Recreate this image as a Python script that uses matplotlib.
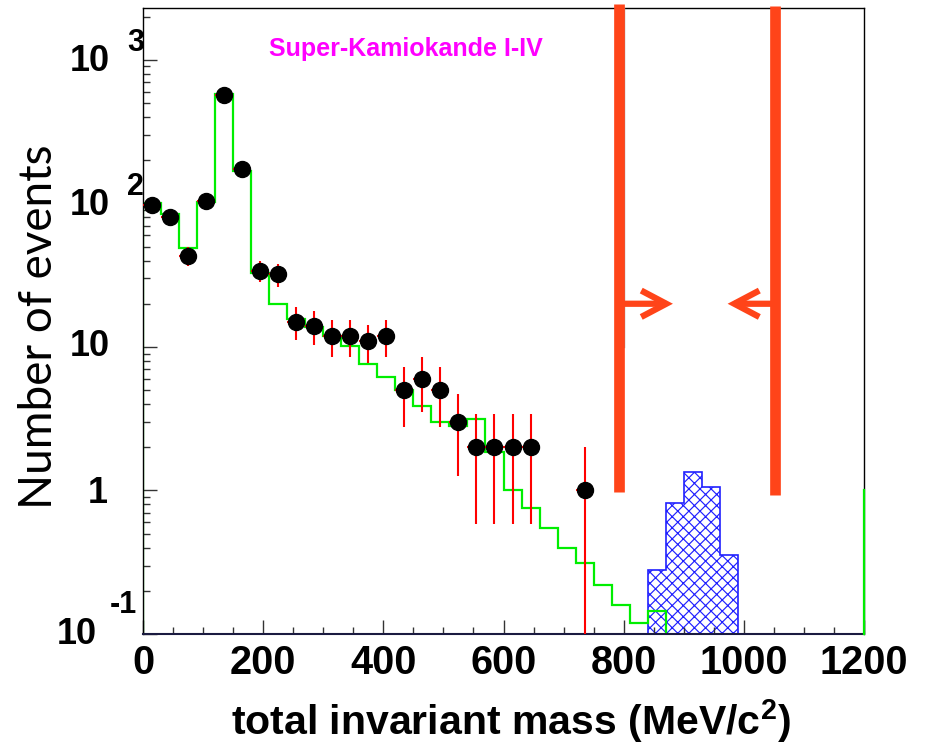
import numpy as np
import matplotlib
matplotlib.use("Agg")
import matplotlib.pyplot as plt
from matplotlib.patches import FancyArrowPatch

# ---------------- data ----------------
data_centers = [15, 45, 75, 105, 135, 165, 195, 225, 255, 285, 315, 345, 375,
                405, 435, 465, 495, 525, 555, 585, 615, 645, 735]
data_counts = [97, 80, 43, 104, 568, 173, 34, 32, 15, 14, 12, 12, 11,
               12, 5, 6, 5, 3, 2, 2, 2, 2, 1]
bin_half_width = 15

mc_edges = list(range(0, 871, 30))
mc_values = [100, 85, 49, 102, 577, 167, 33, 20, 15.6, 13.8, 12, 10.2, 7.6,
             6.2, 5.0, 3.9, 3.0, 2.8, 3.15, 1.86, 1.0, 0.76, 0.55, 0.40,
             0.31, 0.22, 0.16, 0.12, 0.145]
mc_right_edge_x = 1200
mc_right_edge_top = 1.0

sig_edges = [840, 870, 900, 930, 960, 990]
sig_values = [0.279, 0.814, 1.34, 1.05, 0.353]

cut_x = [793, 1052]
cut_bottom = [0.98, 0.93]
cut_top = [2450, 2380]
arrow_y = 20
arrow_tips = [882, 973]

yticks = [0.1, 1, 10, 100, 1000]
ytick_base = ["10", "1", "10", "10", "10"]
ytick_exp = ["-1", "", "", "2", "3"]
xticks = [0, 200, 400, 600, 800, 1000, 1200]

title_text = "Super-Kamiokande I-IV"
xlabel_text = r"total invariant mass (MeV/c$^{\mathregular{2}}$)"
ylabel_text = "Number of events"

# ---------------- style ----------------
plt.rcParams['mathtext.fontset'] = 'custom'
plt.rcParams['mathtext.rm'] = 'Liberation Sans:bold'
plt.rcParams['mathtext.it'] = 'Liberation Sans:bold'
plt.rcParams['mathtext.bf'] = 'Liberation Sans:bold'
plt.rcParams['hatch.linewidth'] = 0.85

BOLD = dict(family='Liberation Sans', weight='bold')
orange = '#ff4419'
green = '#00ee00'

W, H = 925, 744
fig = plt.figure(figsize=(W / 100, H / 100), dpi=100)
ax = fig.add_axes([143 / W, 1 - 634 / H, (864 - 143) / W, (634 - 8) / H])
ax.set_yscale('log')
ax.set_xlim(0, 1200)
ymin, ymax = 0.1, 2300
ax.set_ylim(ymin, ymax)

# signal hatched histogram
ax.stairs(sig_values, sig_edges, baseline=1e-3, fill=True, facecolor='none',
          edgecolor='#2020ff', hatch='xxx', linewidth=1.2, zorder=1)

# MC histogram
ax.stairs(mc_values, mc_edges, baseline=1e-3, color=green, linewidth=1.6,
          zorder=2)
ax.plot([mc_right_edge_x, mc_right_edge_x], [ymin, mc_right_edge_top],
        color=green, linewidth=1.6, zorder=6, clip_on=False)

# data points
counts = np.array(data_counts, dtype=float)
yerr_lo = np.sqrt(counts)
yerr_lo = np.minimum(yerr_lo, counts - 1e-6)
yerr_hi = np.sqrt(counts)
ax.errorbar(data_centers, counts, yerr=[yerr_lo, yerr_hi], xerr=bin_half_width,
            fmt='none', ecolor='#ff0000', elinewidth=1.5, capsize=0, zorder=3)
ax.plot(data_centers, counts, 'o', color='black', markersize=11.5, zorder=4)

# thin grey guide next to the left cut line
ax.plot([800, 800], [10, ymax], color='#999999', linewidth=1.0, zorder=4)

# cut lines and arrows
for xc, yb, yt, tip in zip(cut_x, cut_bottom, cut_top, arrow_tips):
    ax.plot([xc, xc], [yb, yt], color=orange, linewidth=7.7,
            solid_capstyle='butt', zorder=5, clip_on=False)
    arr = FancyArrowPatch((xc, arrow_y), (tip, arrow_y),
                          arrowstyle='->,head_length=18,head_width=9.5',
                          mutation_scale=1, color=orange, linewidth=4.5,
                          shrinkA=0, shrinkB=0, zorder=5,
                          joinstyle='miter', capstyle='butt')
    ax.add_patch(arr)

# axes styling
for s in ['left', 'bottom', 'top', 'right']:
    ax.spines[s].set_linewidth(1.0)
ax.spines['bottom'].set_color('#1a1a40')
ax.spines['bottom'].set_linewidth(1.5)
ax.tick_params(which='both', direction='in', top=False, right=False)
ax.tick_params(which='major', length=10, width=1.0, color='#333333')
ax.tick_params(which='minor', length=5, width=1.0, color='#333333')
ax.set_xticks(xticks)
ax.set_xticks(np.arange(0, 1201, 50), minor=True)
ax.set_xticklabels([str(v) for v in xticks], fontsize=28.5, **BOLD)
ax.tick_params(axis='x', which='major', pad=7)
ax.set_yticks(yticks)
ax.set_yticklabels([''] * len(yticks))
ax.yaxis.set_minor_locator(matplotlib.ticker.LogLocator(base=10, subs=np.arange(2, 10)))
ax.yaxis.set_minor_formatter(matplotlib.ticker.NullFormatter())

# y tick labels in ROOT style (base + raised exponent)
px = 0.72  # points per pixel at 100 dpi
base_off = {1000: (-33, -2), 100: (-33, -2), 10: (-33, 0), 1: (-35, -3), 0.1: (-46, -1)}
exp_off = {1000: (-16, 17), 100: (-16, 16), 0.1: (-6, 29)}
for v, b, e in zip(yticks, ytick_base, ytick_exp):
    dx, dy = base_off[v]
    ax.annotate(b, xy=(0, v), xycoords=('axes fraction', 'data'),
                xytext=(dx * px, dy * px), textcoords='offset points',
                ha='right', va='center', fontsize=26, **BOLD, annotation_clip=False)
    if e:
        dx, dy = exp_off[v]
        ha = 'right' if v < 1 else 'left'
        ax.annotate(e, xy=(0, v), xycoords=('axes fraction', 'data'),
                    xytext=(dx * px, dy * px), textcoords='offset points',
                    ha=ha, va='center', fontsize=22, **BOLD, annotation_clip=False)

# texts
fig.text(406 / W, 1 - 49 / H, title_text, color='#ff00ff', fontsize=18,
         ha='center', va='center', **BOLD)
fig.text(511 / W, 1 - 721 / H, xlabel_text, fontsize=29.5, ha='center',
         va='center', **BOLD)
fig.text(39 / W, 1 - 327 / H, ylabel_text, fontsize=33, rotation=90,
         ha='center', va='center', family='Lato')

fig.savefig('out.png', dpi=100)
